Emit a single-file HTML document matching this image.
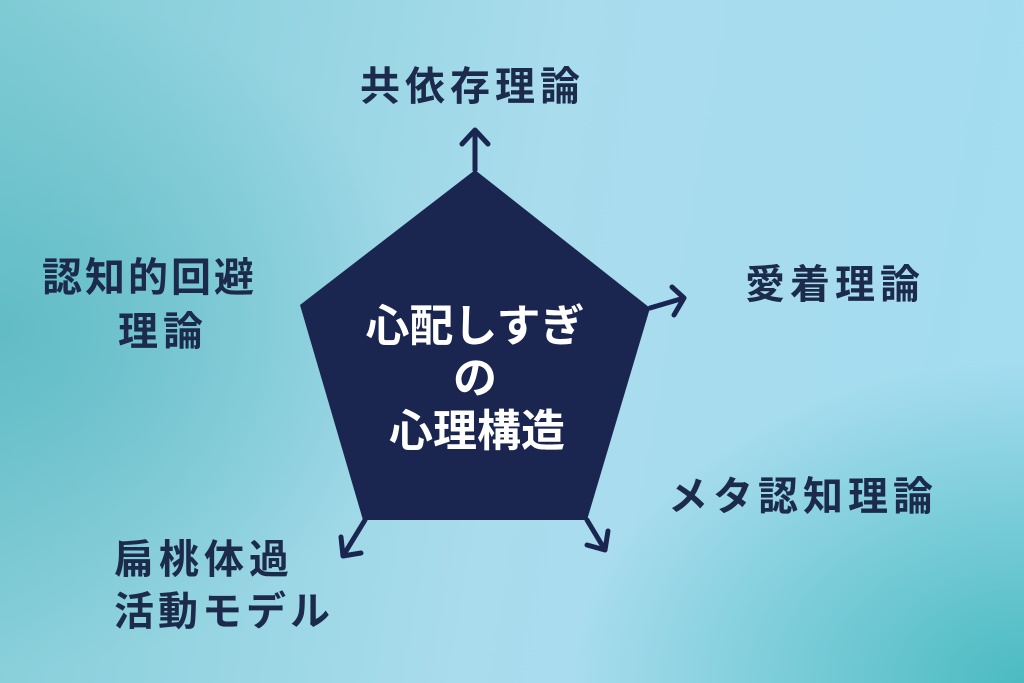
<!DOCTYPE html>
<html><head><meta charset="utf-8"><style>
body{margin:0}
#c{position:relative;width:1024px;height:683px;overflow:hidden;
background:
radial-gradient(ellipse 420px 340px at 0px 330px, rgba(85,182,192,0.75), rgba(85,182,192,0) 100%),
radial-gradient(ellipse 450px 320px at 1024px 683px, rgba(70,185,190,0.95), rgba(70,185,190,0) 100%),
linear-gradient(100deg,#80ccd5 0%,#a9dced 50%,#a3dcf0 100%);
font-family:"Liberation Sans","Noto Sans CJK JP",sans-serif;font-weight:bold;color:#1c2a4c}
.t{position:absolute;font-size:40px;letter-spacing:5px;line-height:1;white-space:nowrap}
.w{position:absolute;color:#fff;font-size:44px;line-height:1;white-space:nowrap;transform:translateX(-50%)}
</style></head><body><div id="c">
<svg width="1024" height="683" style="position:absolute;left:0;top:0">
<polygon points="475,170 650,308 587,520 363,520 300,305" fill="#1a2550"/>
<g stroke="#1a2550" stroke-width="5" fill="none" stroke-linecap="round" stroke-linejoin="round">
<path d="M475,170 L475,130 M462,144 L475,130 L488,144"/>
<path d="M650,308 L684,298 M672,287 L684,298 L674,315"/>
<path d="M587,520 L605,550 M587,545 L605,550 L608,531"/>
<path d="M365,520 L343,556 M341,537 L343,556 L361,553"/>
</g>
</svg>
<div class="t" style="left:360px;top:67px">共依存理論</div>
<div class="t" style="left:745px;top:265px">愛着理論</div>
<div class="t" style="left:668px;top:477px">メタ認知理論</div>
<div class="t" style="left:42px;top:258px;letter-spacing:3px">認知的回避</div>
<div class="t" style="left:118px;top:312px">理論</div>
<div class="t" style="left:114px;top:540px">扁桃体過</div>
<div class="t" style="left:114px;top:592px;letter-spacing:4px">活動モデル</div>
<div class="w" style="left:475px;top:305px">心配しすぎ</div>
<div class="w" style="left:475px;top:357px">の</div>
<div class="w" style="left:477px;top:410px">心理構造</div>
</div></body></html>
